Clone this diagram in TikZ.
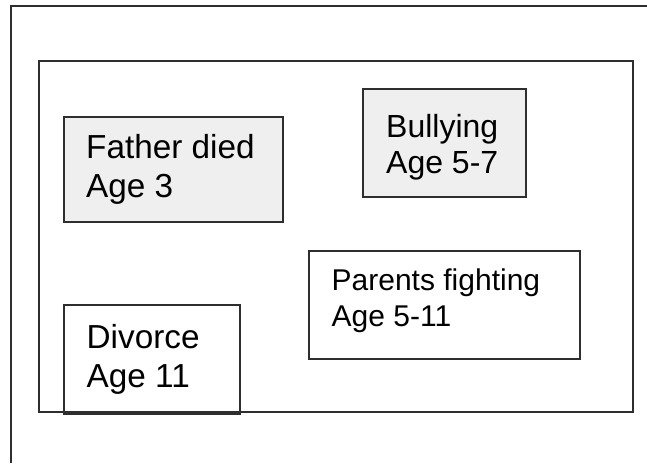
\documentclass[tikz,border=0pt]{standalone}
\usepackage{fontspec}
\setmainfont{Liberation Sans}
\definecolor{boxgray}{HTML}{EFEFEF}
\definecolor{linegray}{HTML}{2E2E2E}
\begin{document}
\begin{tikzpicture}[x=1pt,y=-1pt,
  frame/.style={draw=linegray,line width=1.6pt},
  evbox/.style={draw=linegray,line width=1.6pt,rectangle,inner sep=0pt},
  shaded/.style={evbox,fill=boxgray},
  lbl/.style={anchor=base west,inner sep=0pt,font=\fontsize{32}{38}\selectfont},
  lblbig/.style={anchor=base west,inner sep=0pt,font=\fontsize{33.3}{38}\selectfont},
  lblsmall/.style={anchor=base west,inner sep=0pt,font=\fontsize{30}{36}\selectfont}]
\useasboundingbox (0,0) rectangle (647,463);
% outer frame (left and top lines)
\coordinate (ob) at (11,463);
\coordinate (otl) at (11,6);
\coordinate (otr) at (647,6);
\draw[frame] (ob) -- (otl) -- (otr);
% inner frame
\node[evbox,minimum width=594pt,minimum height=351pt] (inner) at (336,236.5) {};
% boxes
\node[shaded,minimum width=219pt,minimum height=105pt] (father) at (173.5,169.5) {};
\node[shaded,minimum width=163pt,minimum height=108pt] (bully) at (444.5,143) {};
\node[evbox,minimum width=271pt,minimum height=108pt] (parents) at (444.5,305) {};
\node[evbox,minimum width=176pt,minimum height=108pt] (divorce) at (152,359) {};
\draw[draw=linegray,line width=2.6pt] (divorce.south west) -- (divorce.south east);
% labels
\node[lblbig] (t1a) at (86,158) {Father died};
\node[lblbig] (t1b) at (86,197) {Age 3};
\node[lbl] (t2a) at (386,137) {Bullying};
\node[lbl] (t2b) at (386,173) {Age 5-7};
\node[lblsmall] (t3a) at (331.5,290) {Parents fighting};
\node[lblsmall] (t3b) at (331.5,326) {Age 5-11};
\node[lblbig] (t4a) at (86.5,348) {Divorce};
\node[lblbig] (t4b) at (86.5,387) {Age 11};
\end{tikzpicture}
\end{document}
